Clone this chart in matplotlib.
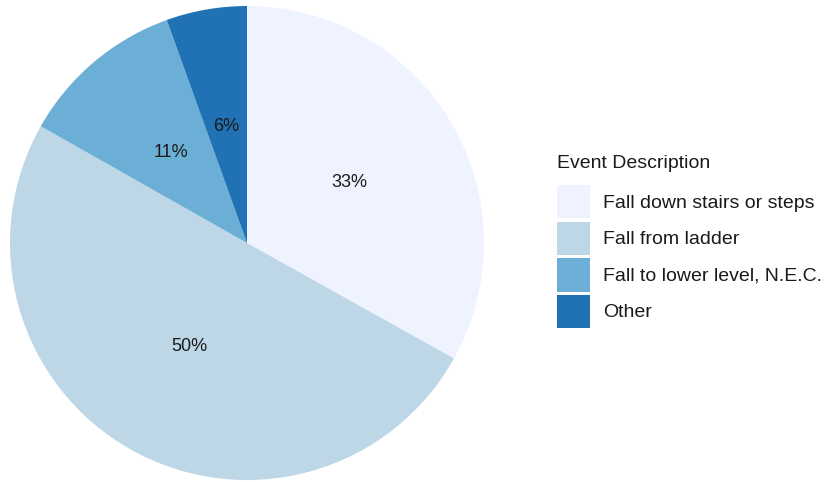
import matplotlib.pyplot as plt
from matplotlib.patches import Patch

# 数据
categories = ['Fall down stairs or steps', 'Fall from ladder',
              'Fall to lower level, N.E.C.', 'Other']
shares = [33.1, 50.1, 11.3, 5.5]
labels_pct = ['33%', '50%', '11%', '6%']
colors = ['#EFF3FF', '#BDD7E7', '#6BAED6', '#2171B5']

plt.rcParams['font.family'] = ['Liberation Sans', 'DejaVu Sans']

fig = plt.figure(figsize=(8.25, 4.82), dpi=100)
ax = fig.add_axes([10 / 825, 2 / 482, 474 / 825, 474 / 482])

wedges, texts = ax.pie(shares, colors=colors, labels=labels_pct,
                       startangle=90, counterclock=False,
                       labeldistance=0.5, radius=1,
                       textprops={'fontsize': 13, 'color': '#1a1a1a',
                                  'ha': 'center', 'va': 'center'})
ax.set_xlim(-1, 1)
ax.set_ylim(-1, 1)
ax.set_aspect('equal')
ax.axis('off')

# 图例（标题单独画）
fig.text(557 / 825, 1 - 164 / 482, 'Event Description', fontsize=14,
         color='#1a1a1a', ha='left', va='center')
handles = [Patch(facecolor=c, edgecolor='none') for c in colors]
leg = fig.legend(handles, categories,
                 loc='upper left', bbox_to_anchor=(557 / 825, 1 - 185 / 482),
                 frameon=False, fontsize=14,
                 handlelength=1.72, handleheight=2.27, handletextpad=0.65,
                 labelspacing=0.16, borderpad=0, borderaxespad=0)
for t in leg.get_texts():
    t.set_color('#1a1a1a')

fig.savefig('out.png', dpi=100)
